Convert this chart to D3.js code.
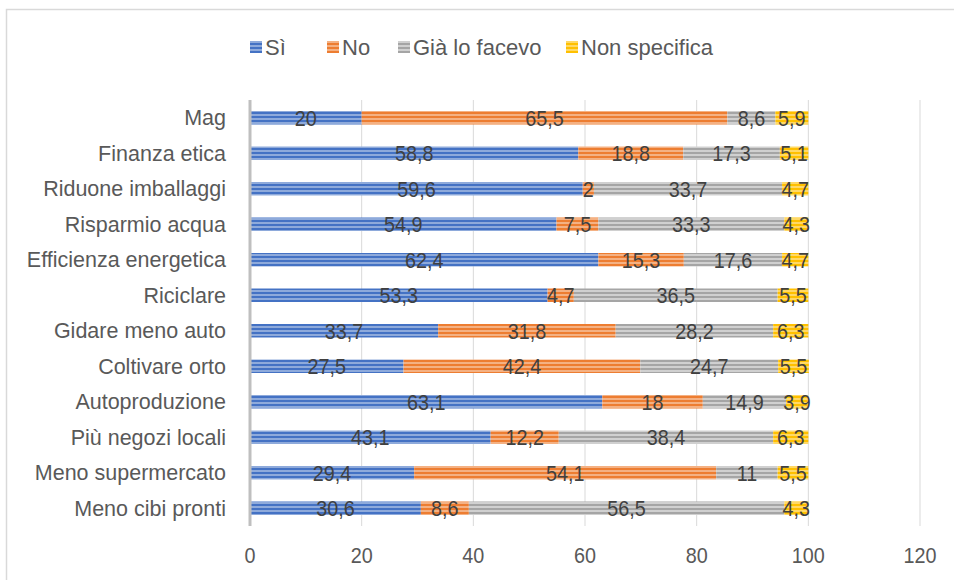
<!DOCTYPE html>
<html>
<head>
<meta charset="utf-8">
<script src="https://cdn.jsdelivr.net/npm/d3@7"></script>
<style>
  body { margin: 0; background: #fff; }
  svg { display: block; font-family: "Liberation Sans", Arial, sans-serif; }
</style>
</head>
<body>
<svg width="954" height="580"></svg>
<script>
let width = 954;
let height = 580;

let categories = ['Mag', 'Finanza etica', 'Riduone imballaggi', 'Risparmio acqua',
  'Efficienza energetica', 'Riciclare', 'Gidare meno auto', 'Coltivare orto',
  'Autoproduzione', 'Più negozi locali', 'Meno supermercato', 'Meno cibi pronti'];
let seriesNames = ['Sì', 'No', 'Già lo facevo', 'Non specifica'];
let si       = [20, 58.8, 59.6, 54.9, 62.4, 53.3, 33.7, 27.5, 63.1, 43.1, 29.4, 30.6];
let no       = [65.5, 18.8, 2, 7.5, 15.3, 4.7, 31.8, 42.4, 18, 12.2, 54.1, 8.6];
let gia      = [8.6, 17.3, 33.7, 33.3, 17.6, 36.5, 28.2, 24.7, 14.9, 38.4, 11, 56.5];
let nonSpec  = [5.9, 5.1, 4.7, 4.3, 4.7, 5.5, 6.3, 5.5, 3.9, 6.3, 5.5, 4.3];
let xTicks = [0, 20, 40, 60, 80, 100, 120];

let colors = [['#4472c4', '#8eaadb'], ['#ed7d31', '#f4b183'], ['#a5a5a5', '#d0d0d0'], ['#ffc000', '#ffd966']];

let rows = categories.map((c, i) => ({cat: c, 'Sì': si[i], 'No': no[i], 'Già lo facevo': gia[i], 'Non specifica': nonSpec[i]}));
let stacked = d3.stack().keys(seriesNames)(rows);

let svg = d3.select('svg');

// striped fills
let defs = svg.append('defs');
colors.forEach((c, i) => {
  let p = defs.append('pattern')
    .attr('id', 'stripe' + i)
    .attr('patternUnits', 'userSpaceOnUse')
    .attr('width', 8)
    .attr('height', 4);
  p.append('rect').attr('width', 8).attr('height', 4).attr('fill', c[1]);
  p.append('rect').attr('width', 8).attr('height', 2).attr('fill', c[0]);
});

// outer border
svg.append('rect')
  .attr('x', 6.5).attr('y', 9.5)
  .attr('width', 960).attr('height', 600)
  .attr('fill', 'none')
  .attr('stroke', '#d9d9d9')
  .attr('stroke-width', 1.5);

let x = d3.scaleLinear().domain([0, 120]).range([250, 920]);
let y = d3.scaleBand().domain(categories).range([100, 526]).paddingInner(0.62).paddingOuter(0.31);

// gridlines
svg.append('g')
  .selectAll('line')
  .data(xTicks.slice(1))
  .enter()
    .append('line')
    .attr('x1', d => x(d)).attr('x2', d => x(d))
    .attr('y1', 100).attr('y2', 526)
    .attr('stroke', '#d9d9d9')
    .attr('stroke-width', 1);

// bars
let bars = svg.append('g');
stacked.forEach((s, si_) => {
  bars.selectAll('.s' + si_)
    .data(s)
    .enter()
      .append('rect')
      .attr('x', d => x(d[0]))
      .attr('y', d => y(d.data.cat))
      .attr('width', d => x(d[1]) - x(d[0]))
      .attr('height', y.bandwidth())
      .attr('fill', 'url(#stripe' + si_ + ')');
});

// axis line
svg.append('line')
  .attr('x1', x(0)).attr('x2', x(0))
  .attr('y1', 100).attr('y2', 526)
  .attr('stroke', '#bfbfbf')
  .attr('stroke-width', 3);

// data labels
let fmt = v => String(v).replace('.', ',');
stacked.forEach(s => {
  svg.append('g')
    .selectAll('text')
    .data(s)
    .enter()
      .append('text')
      .attr('transform', d => `translate(${x((d[0] + d[1]) / 2)},${y(d.data.cat) + y.bandwidth() / 2}) scale(0.9,1)`)
      .attr('dy', '0.36em')
      .attr('text-anchor', 'middle')
      .attr('font-size', 22)
      .attr('fill', '#404040')
      .text(d => fmt(+(d[1] - d[0]).toFixed(1)));
});

// category labels
svg.append('g')
  .selectAll('text')
  .data(categories)
  .enter()
    .append('text')
    .attr('x', 226)
    .attr('y', d => y(d) + y.bandwidth() / 2)
    .attr('dy', '0.36em')
    .attr('text-anchor', 'end')
    .attr('font-size', 21.5)
    .attr('fill', '#595959')
    .text(d => d);

// x tick labels
svg.append('g')
  .selectAll('text')
  .data(xTicks)
  .enter()
    .append('text')
    .attr('transform', d => `translate(${x(d)},555) scale(0.9,1)`)
    .attr('dy', '0.36em')
    .attr('text-anchor', 'middle')
    .attr('font-size', 22)
    .attr('fill', '#595959')
    .text(d => d);

// legend
let legendX = [250, 327, 398, 566];
let legend = svg.append('g')
  .selectAll('g')
  .data(seriesNames)
  .enter()
    .append('g')
    .attr('transform', (d, i) => `translate(${legendX[i]},47)`);
legend.append('rect')
  .attr('x', 0).attr('y', -6)
  .attr('width', 12).attr('height', 12)
  .attr('fill', (d, i) => 'url(#stripe' + i + ')');
legend.append('text')
  .attr('x', 15)
  .attr('dy', '0.36em')
  .attr('font-size', 22)
  .attr('fill', '#595959')
  .text(d => d);
</script>
</body>
</html>
